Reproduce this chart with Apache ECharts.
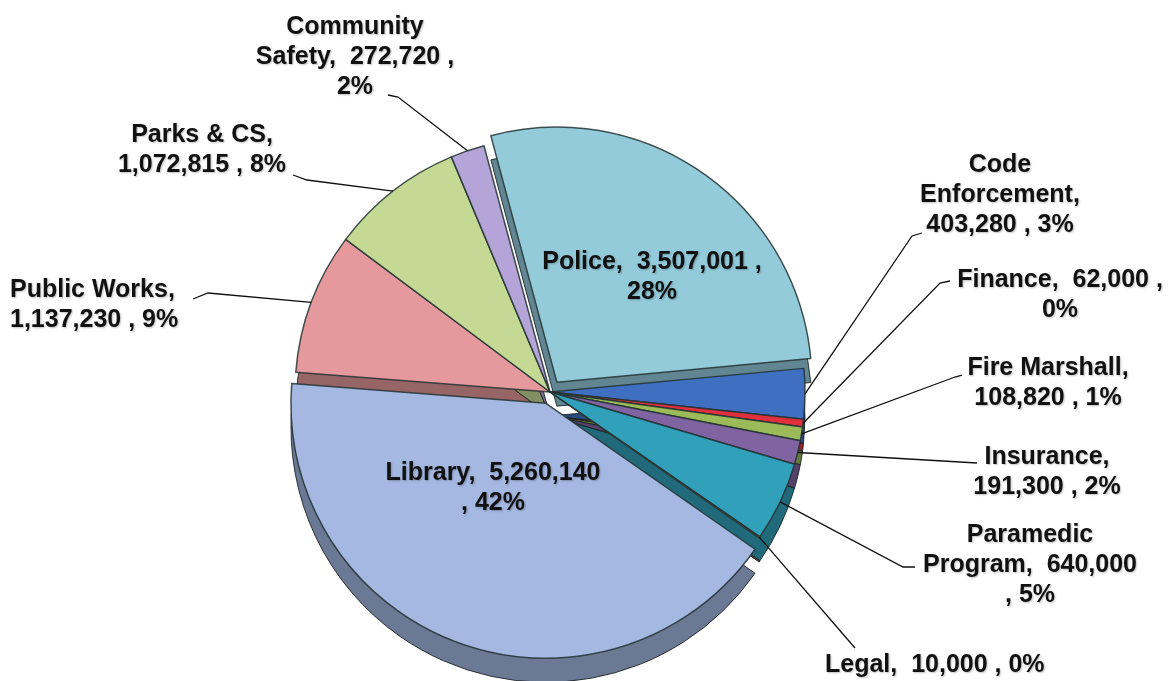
<!DOCTYPE html>
<html><head><meta charset="utf-8">
<script src="https://cdn.jsdelivr.net/npm/echarts@6/dist/echarts.min.js"></script>
<style>html,body{margin:0;padding:0;background:#fff}#c{width:1175px;height:681px}</style>
</head><body><div id="c"></div>
<script>
// ---- data ----
const categories = ['Police','Code Enforcement','Finance','Fire Marshall','Insurance','Paramedic Program','Legal','Library','Public Works','Parks & CS','Community Safety'];
const values = [3507001,403280,62000,108820,191300,640000,10000,5260140,1137230,1072815,272720];
const labelTemplates = [
  'Police,  {v} ,\n{p}%',
  'Code\nEnforcement,\n{v} , {p}%',
  'Finance,  {v} ,\n{p}%',
  'Fire Marshall,\n{v} , {p}%',
  'Insurance,\n{v} , {p}%',
  'Paramedic\nProgram,  {v}\n, {p}%',
  'Legal,  {v} , {p}%',
  'Library,  {v}\n, {p}%',
  'Public Works,\n{v} , {p}%',
  'Parks & CS,\n{v} , {p}%',
  'Community\nSafety,  {v} ,\n{p}%'
];
const explodedSlices = ['Police','Library'];

// ---- style / layout ----
const colors = ['#93cbdb','#3f6fc1','#e0303e','#9bbb59','#8064a2','#31a0ba','#b9520f','#a4b8e2','#e6999c','#c4d994','#b4a4d8'];
const CX = 550, CY = 392, R = 255, DEPTH = 24;
// label anchor (x, y top), alignment, leader line end points
const labelPos = [
  {x:652, y:247, align:'center'},
  {x:1000, y:150, align:'center', line:[[912,236],[922,233]]},
  {x:1060, y:265, align:'center', line:[[940,283],[950,281]]},
  {x:1048, y:353, align:'center', line:[[955,377],[962,375]]},
  {x:1047, y:442, align:'center', line:[[977,463]]},
  {x:1030, y:520, align:'center', line:[[903,567],[915,567]]},
  {x:825, y:650, align:'left', line:[[855,648]]},
  {x:493, y:458, align:'center'},
  {x:10, y:275, align:'left', line:[[208,293],[193,299]]},
  {x:202, y:120, align:'center', line:[[307,180],[293,175]]},
  {x:355, y:12, align:'center', line:[[398,97],[388,95]]}
];

function shade(hex, f){
  const n = parseInt(hex.slice(1),16);
  const r = Math.round(((n>>16)&255)*f), g = Math.round(((n>>8)&255)*f), b = Math.round((n&255)*f);
  return 'rgb('+r+','+g+','+b+')';
}

const isExploded = name => explodedSlices.indexOf(name) >= 0;
const topData = values.map((v,i)=>({value:v, name:categories[i], selected:isExploded(categories[i]), itemStyle:{color:colors[i]}}));
const sideData = values.map((v,i)=>({value:v, name:categories[i], selected:isExploded(categories[i]), itemStyle:{color:shade(colors[i],0.66)}}));
const labelData = values.map((v,i)=>({value:v, name:categories[i], labelLine:{show: !!labelPos[i].line}}));

const common = {type:'pie', silent:true, radius:R, startAngle:105, clockwise:true, avoidLabelOverlap:false, emphasis:{disabled:true}};

const chart = echarts.init(document.getElementById('c'));
chart.setOption({
  backgroundColor:'#fff',
  animation:false,
  series:[
    Object.assign({}, common, {
      z:1, center:[CX, CY+DEPTH], selectedMode:'multiple', selectedOffset:12,
      itemStyle:{borderColor:'rgba(20,30,30,0.85)', borderWidth:1},
      label:{show:false}, labelLine:{show:false},
      data: sideData
    }),
    Object.assign({}, common, {
      z:2, center:[CX, CY], selectedMode:'multiple', selectedOffset:12,
      itemStyle:{borderColor:'rgba(35,50,50,0.85)', borderWidth:1.5},
      label:{show:false}, labelLine:{show:false},
      data: topData
    }),
    Object.assign({}, common, {
      z:3, center:[CX, CY], selectedMode:false, percentPrecision:0,
      itemStyle:{color:'rgba(0,0,0,0)', borderWidth:0},
      label:{
        show:true, position:'outside',
        fontFamily:'"Liberation Sans", Arial, sans-serif', fontWeight:'bold',
        fontSize:25, lineHeight:30, color:'#111',
        textShadowColor:'rgba(0,0,0,0.25)', textShadowBlur:2, textShadowOffsetX:1, textShadowOffsetY:1,
        formatter: p => labelTemplates[p.dataIndex]
          .replace('{v}', p.value.toLocaleString('en-US'))
          .replace('{p}', p.percent)
      },
      labelLine:{show:true, length:10, length2:10, lineStyle:{color:'#111', width:1.3}},
      labelLayout: function(params){
        const lp = labelPos[params.dataIndex];
        const out = {x:lp.x, y:lp.y, align:lp.align, verticalAlign:'top'};
        if (lp.line && params.labelLinePoints) {
          out.labelLinePoints = [params.labelLinePoints[0]].concat(lp.line);
        }
        return out;
      },
      data: labelData
    })
  ]
});
</script>
</body></html>
